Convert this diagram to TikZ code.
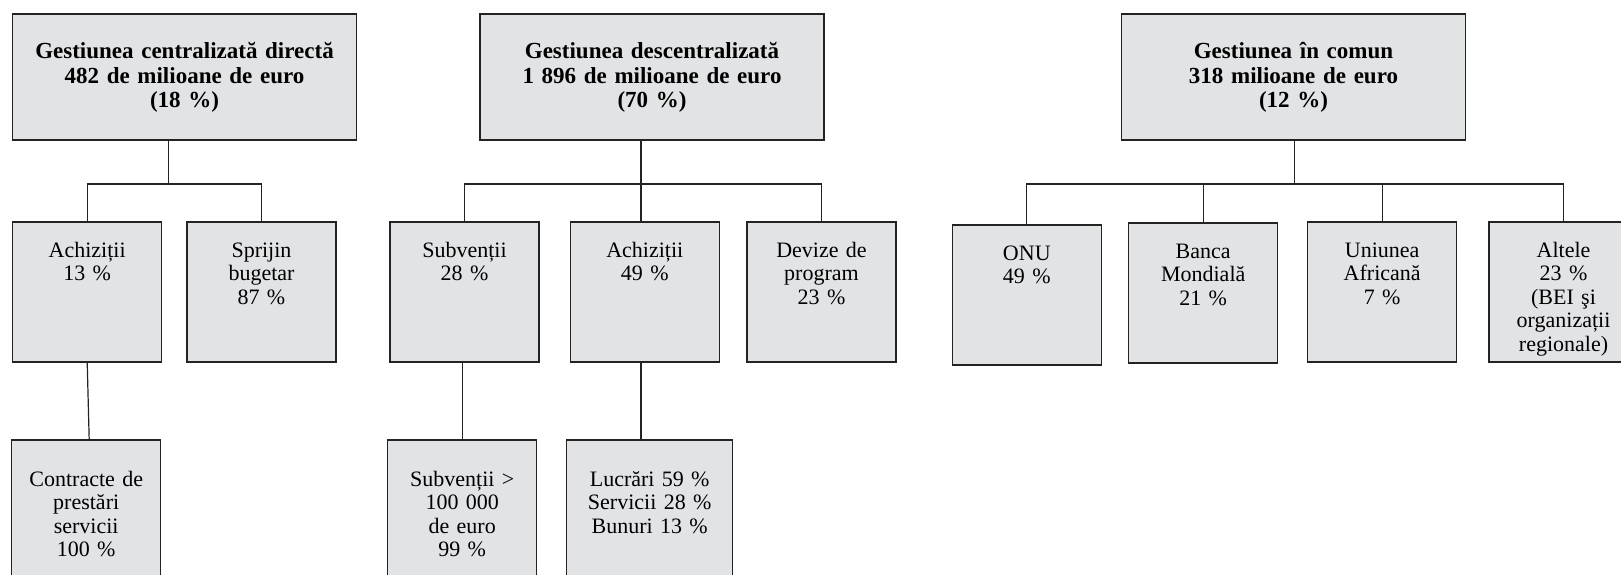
\documentclass[tikz,border=0pt]{standalone}
\usepackage{fontspec}
\setmainfont{Liberation Serif}
\usetikzlibrary{positioning}
\definecolor{boxcol}{RGB}{226,227,229}
\definecolor{linecol}{RGB}{35,35,35}

\begin{document}
\begin{tikzpicture}[x=1pt,y=-1pt,
  box/.style={draw=linecol,line width=1.4pt,fill=boxcol,anchor=north west,
    inner xsep=4pt,inner ysep=0pt,outer sep=0pt,align=center,
    font=\fontsize{22}{23.5}\selectfont},
  head/.style={box,text width=336pt,text height=45pt,text depth=81pt,
    font=\bfseries\fontsize{23}{24.3}\selectfont},
  sub/.style={box,text width=141pt,text height=35pt,text depth=105pt},
  leaf/.style={box,text width=141pt,text height=46pt,text depth=130pt},
  link/.style={draw=linecol,line width=1.2pt}]
\useasboundingbox (0,0) rectangle (1621,575);
% three management modes
\node[head] (g1) at (12.5,14) {Gestiunea centralizată directă\\482 de milioane de euro\\(18 \%)};
\node[head] (g2) at (480,14) {Gestiunea descentralizată\\1~896 de milioane de euro\\(70 \%)};
\node[head] (g3) at (1121.5,14) {Gestiunea în comun\\318 milioane de euro\\(12 \%)};
\coordinate (j1) at (168.3,184);
\coordinate (j2) at (641,184);
\coordinate (j3) at (1294.3,184);
% second row
\node[sub] (a1) at (12.7,222) {Achiziții\\13 \%};
\node[sub] (sb) at (187,222) {Sprijin\\bugetar\\87 \%};
\node[sub] (sv) at (390,222) {Subvenții\\28 \%};
\node[sub] (a2) at (570.3,222) {Achiziții\\49 \%};
\node[sub] (dp) at (747,222) {Devize de\\program\\23 \%};
\node[sub] (onu) at (952.3,225) {ONU\\49 \%};
\node[sub] (bm) at (1128.7,223) {Banca\\Mondială\\21 \%};
\node[sub] (ua) at (1307.7,222) {Uniunea\\Africană\\7 \%};
\node[sub] (alt) at (1489,222) {Altele\\23 \%\\(BEI şi\\organizații\\regionale)};
% third row
\node[leaf] (cps) at (11.7,440) {Contracte de\\prestări\\servicii\\100 \%};
\node[leaf] (sv2) at (387.7,440) {Subvenții >\\100~000\\de euro\\99 \%};
\node[leaf,text width=158pt] (lsb) at (566.7,440) {Lucrări 59 \%\\Servicii 28 \%\\Bunuri 13 \%};
% connectors
\draw[link] (g1.south -| j1) -- (j1);
\draw[link] (a1.north) |- (j1) -| (sb.north);
\draw[link] (g2.south -| j2) -- (j2);
\draw[link] (sv.north) |- (j2) -| (dp.north);
\draw[link] (j2) -- (j2 |- a2.north);
\draw[link] (g3.south -| j3) -- (j3);
\draw[link] (onu.north) |- (j3) -| (alt.north);
\foreach \n in {bm,ua} \draw[link] (\n.north) -- (\n.north |- j3);
\draw[link] (a1.south) -- ([xshift=3pt]cps.north);
\draw[link] (sv2.north |- sv.south) -- (sv2.north);
\draw[link] (j2 |- a2.south) -- (j2 |- lsb.north);
\end{tikzpicture}
\end{document}
